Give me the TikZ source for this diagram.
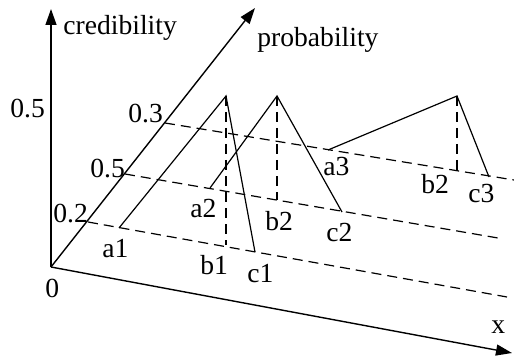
\documentclass[tikz,border=0pt]{standalone}
\usepackage{fontspec}
\setmainfont{Liberation Serif}
\usetikzlibrary{arrows.meta}
\begin{document}
\begin{tikzpicture}[x=0.5pt,y=-0.5pt,
  axis/.style={line width=0.7pt,-{Triangle[length=8pt,width=5.5pt]}},
  curve/.style={line width=0.6pt},
  guide/.style={line width=0.6pt,dash pattern=on 5pt off 3pt},
  lbl/.style={anchor=base west,inner sep=0pt,font=\fontsize{13.8}{16}\selectfont}]
\useasboundingbox (0,0) rectangle (514,358);
% axes
\coordinate (O) at (51,267);
\coordinate (Ytip) at (51,9);
\coordinate (Ptip) at (255,8);
\coordinate (Xtip) at (512,353);
\draw[axis] (O) -- (Ytip);
\draw[axis] (O) -- (Ptip);
\draw[axis] (O) -- (Xtip);
% points on probability axis
\coordinate (p2) at (88,222);
\coordinate (p5) at (125,174);
\coordinate (p3) at (165,123);
\coordinate (e2) at (507,297);
\coordinate (e5) at (498,238);
\coordinate (e3) at (514,180);
\draw[guide] (p2) -- (e2);
\draw[guide] (p5) -- (e5);
\draw[guide] (p3) -- (e3);
% triangle 1
\coordinate (A1) at (119,228);
\coordinate (T1) at (226,96);
\coordinate (C1) at (255,252);
\coordinate (B1) at (226,245);
\draw[curve] (A1) -- (T1) -- (C1);
\draw[guide] (T1) -- (B1);
% triangle 2
\coordinate (A2) at (210,188);
\coordinate (T2) at (277,96);
\coordinate (C2) at (342,212);
\coordinate (B2) at (277,200);
\draw[curve] (A2) -- (T2) -- (C2);
\draw[guide] (T2) -- (B2);
% triangle 3
\coordinate (A3) at (328,150);
\coordinate (T3) at (457,96);
\coordinate (C3) at (489,177);
\coordinate (B3) at (457,172);
\draw[curve] (A3) -- (T3) -- (C3);
\draw[guide] (T3) -- (B3);
% labels
\node[lbl] (lcred) at (63,35) {credibility};
\node[lbl] (lprob) at (257,47) {probability};
\node[lbl] (ly5) at (10,118) {0.5};
\node[lbl] (lp3) at (128,123) {0.3};
\node[lbl] (lp5) at (90,177) {0.5};
\node[lbl] (lp2) at (53,222) {0.2};
\node[lbl] (lzero) at (45,297) {0};
\node[lbl] (lx) at (491,333) {x};
\node[lbl] (la1) at (102,257) {a1};
\node[lbl] (lb1) at (200,274) {b1};
\node[lbl] (lc1) at (247,282) {c1};
\node[lbl] (la2) at (190,217) {a2};
\node[lbl] (lb2) at (265,230) {b2};
\node[lbl] (lc2) at (326,242) {c2};
\node[lbl] (la3) at (323,176) {a3};
\node[lbl] (lb3) at (421,193) {b2};
\node[lbl] (lc3) at (468,202) {c3};
\end{tikzpicture}
\end{document}
